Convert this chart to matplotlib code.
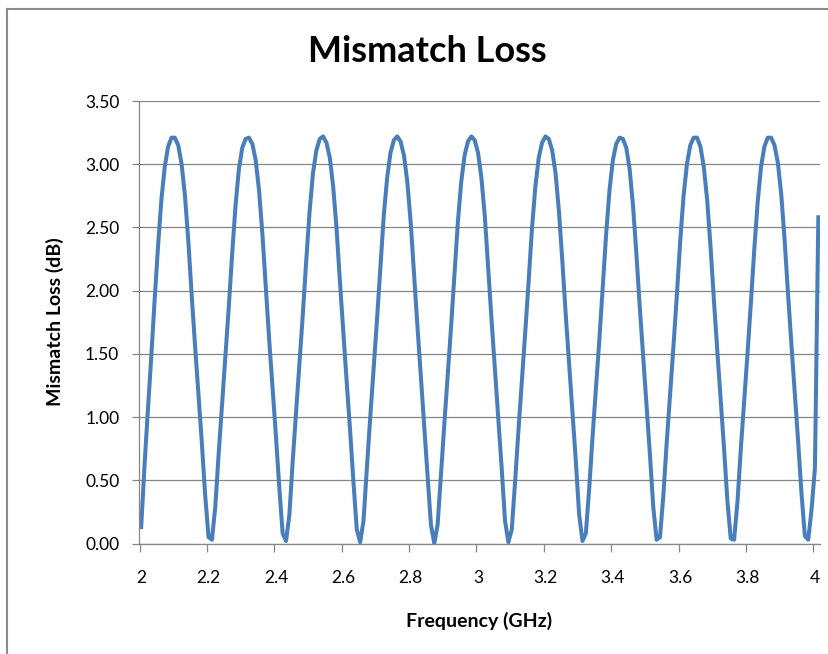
import numpy as np
import matplotlib
matplotlib.use("Agg")
import matplotlib.pyplot as plt
from matplotlib.lines import Line2D

# frequency sweep, 10 MHz steps from 2.00 to 4.01 GHz
freq = np.round(np.arange(2.00, 4.015, 0.01), 2)

# mismatch loss in dB
loss = [
    0.13, 0.62, 1.06, 1.48, 1.93, 2.35, 2.72, 2.98, 3.14, 3.21,
    3.21, 3.15, 3.00, 2.75, 2.39, 1.96, 1.56, 1.18, 0.80, 0.38,
    0.05, 0.03, 0.29, 0.71, 1.10, 1.48, 1.87, 2.29, 2.67, 2.96,
    3.13, 3.20, 3.21, 3.16, 3.03, 2.79, 2.44, 2.02, 1.61, 1.23,
    0.85, 0.44, 0.08, 0.02, 0.23, 0.66, 1.05, 1.43, 1.82, 2.24,
    2.63, 2.93, 3.11, 3.20, 3.22, 3.17, 3.05, 2.82, 2.49, 2.07,
    1.67, 1.28, 0.90, 0.49, 0.11, 0.01, 0.18, 0.60, 1.00, 1.38,
    1.77, 2.18, 2.59, 2.89, 3.09, 3.19, 3.22, 3.18, 3.07, 2.86,
    2.54, 2.13, 1.72, 1.33, 0.95, 0.55, 0.15, 0.00, 0.15, 0.55,
    0.95, 1.33, 1.72, 2.13, 2.54, 2.86, 3.07, 3.18, 3.22, 3.19,
    3.09, 2.89, 2.59, 2.18, 1.77, 1.38, 1.00, 0.60, 0.18, 0.01,
    0.11, 0.49, 0.90, 1.28, 1.67, 2.07, 2.49, 2.82, 3.05, 3.17,
    3.22, 3.20, 3.11, 2.93, 2.63, 2.24, 1.82, 1.43, 1.05, 0.66,
    0.23, 0.02, 0.08, 0.44, 0.85, 1.23, 1.61, 2.02, 2.44, 2.79,
    3.03, 3.16, 3.21, 3.20, 3.13, 2.96, 2.67, 2.29, 1.87, 1.48,
    1.10, 0.71, 0.29, 0.03, 0.05, 0.38, 0.80, 1.18, 1.56, 1.96,
    2.39, 2.75, 3.00, 3.15, 3.21, 3.21, 3.14, 2.98, 2.72, 2.35,
    1.93, 1.53, 1.15, 0.76, 0.34, 0.04, 0.03, 0.33, 0.75, 1.13,
    1.51, 1.91, 2.33, 2.70, 2.98, 3.14, 3.21, 3.21, 3.15, 3.01,
    2.76, 2.40, 1.98, 1.58, 1.20, 0.81, 0.40, 0.06, 0.03, 0.27,
    0.60, 2.58,
]

x_labels = ["2", "2.2", "2.4", "2.6", "2.8", "3", "3.2", "3.4", "3.6", "3.8", "4"]
x_label_pos = [2.0, 2.2, 2.4, 2.6, 2.8, 3.0, 3.2, 3.4, 3.6, 3.8, 4.0]
y_ticks = [0.0, 0.5, 1.0, 1.5, 2.0, 2.5, 3.0, 3.5]

plt.rcParams["font.family"] = ["Lato", "DejaVu Sans"]

W, H = 829, 654
fig = plt.figure(figsize=(W / 100, H / 100), dpi=100)
fig.patch.set_facecolor("white")

# chart area border (cropped on right and bottom)
gray = "#868686"
fig.add_artist(Line2D([7 / W, 1.0], [1 - 9 / H, 1 - 9 / H], transform=fig.transFigure,
                      color="#8c8c8c", lw=1.5))
fig.add_artist(Line2D([7 / W, 7 / W], [1 - 9 / H, 0.0], transform=fig.transFigure,
                      color="#8c8c8c", lw=1.5))

# plot area
left, right, top, bottom = 139.5, 820, 101, 543.5
ax = fig.add_axes([left / W, 1 - bottom / H, (right - left) / W, (bottom - top) / H])

ax.plot(freq, loss, color="#4a7ebb", lw=2.9, solid_joinstyle="round")

# category style axis: slots of 0.01 each, ticks on slot boundaries
ax.set_xlim(freq[0] - 0.005, freq[-1] + 0.005)
ax.set_ylim(0, 3.5)

ax.set_xticks([p - 0.005 for p in x_label_pos])
ax.set_xticklabels([])
ax.set_xticks(x_label_pos, minor=True)
ax.set_xticklabels(x_labels, minor=True)
ax.tick_params(axis="x", which="major", direction="out", length=5.8, width=0.9, color=gray)
ax.tick_params(axis="x", which="minor", length=0, pad=19, labelsize=12.5, labelcolor="black")

ax.set_yticks(y_ticks)
ax.set_yticklabels(["%.2f" % v for v in y_ticks])
ax.tick_params(axis="y", direction="out", length=5, width=0.9, color=gray, pad=9.5,
               labelsize=12.5)

ax.grid(axis="y", color=gray, lw=0.9)
ax.set_axisbelow(True)
for s in ["top", "right"]:
    ax.spines[s].set_visible(False)
for s in ["left", "bottom"]:
    ax.spines[s].set_color(gray)
    ax.spines[s].set_linewidth(0.9)

fig.text(427 / W, 1 - 52 / H, "Mismatch Loss", ha="center", va="center",
         fontsize=26, fontweight="bold")
fig.text(479 / W, 1 - 621 / H, "Frequency (GHz)", ha="center", va="center",
         fontsize=14, fontweight="bold")
fig.text(55 / W, 1 - 322 / H, "Mismatch Loss (dB)", ha="center", va="center",
         rotation=90, fontsize=14, fontweight="bold")

fig.savefig("out.png", dpi=100)
